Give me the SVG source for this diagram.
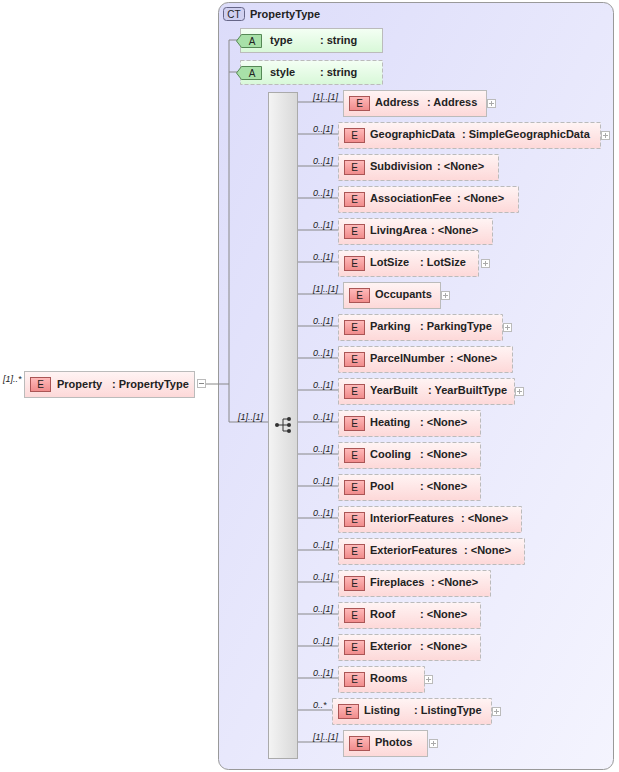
<svg xmlns="http://www.w3.org/2000/svg" width="619" height="772" viewBox="0 0 619 772">
<defs>
<linearGradient id="eg" x1="0" y1="0" x2="0" y2="1"><stop offset="0" stop-color="#fff4f4"/><stop offset="1" stop-color="#fdd8d8"/></linearGradient>
<linearGradient id="ag" x1="0" y1="0" x2="0" y2="1"><stop offset="0" stop-color="#f4fff4"/><stop offset="1" stop-color="#d8f8d8"/></linearGradient>
<linearGradient id="ctg" x1="0" y1="0" x2="1" y2="1"><stop offset="0" stop-color="#dcdcfa"/><stop offset="1" stop-color="#f4f4fe"/></linearGradient>
<linearGradient id="sg" x1="0" y1="0" x2="1" y2="0"><stop offset="0" stop-color="#f4f4f4"/><stop offset="1" stop-color="#d8d8d8"/></linearGradient>
<linearGradient id="bg" x1="0" y1="0" x2="0" y2="1"><stop offset="0" stop-color="#fbb"/><stop offset="1" stop-color="#f08a8a"/></linearGradient>
<g id="plus"><rect x="0.5" y="0.5" width="8" height="8" fill="#fff" stroke="#bbb"/><path d="M2 4.5h5M4.5 2v5" stroke="#aaa"/></g>
</defs>
<style>
text{font-family:"Liberation Sans",Arial,sans-serif;font-size:11px;font-weight:bold;fill:#222}
.m{font-weight:normal;font-style:italic;font-size:9px}
.e{fill:url(#eg);stroke:#bbb;stroke-width:1}
.o{stroke-dasharray:4,2}
.b{fill:url(#bg);stroke:#a55;stroke-width:1}
.bt{font-weight:normal;font-size:10px;text-anchor:middle}
.l{stroke:#888;stroke-width:1;fill:none}
.p{fill:#fff;stroke:#bbb}
</style>
<g id="ct">
<rect x="218.5" y="2.5" width="395" height="767" rx="10" fill="url(#ctg)" stroke="#999"/>
<rect x="223.5" y="7.5" width="21" height="13" rx="3" fill="#d0d0f0" stroke="#668"/>
<text x="234" y="18" class="bt">CT</text>
<text x="250" y="18">PropertyType</text>
</g>
<g id="connectors">
<path class="l" d="M204 384H229M229 40V422M229 40H240M229 72H240M229 422H268"/>
<path class="l" d="M297 102H343M297 134H338M297 166H338M297 198H338M297 230H338M297 262H338M297 294H343M297 326H338M297 358H338M297 390H338M297 422H338M297 454H338M297 486H338M297 518H338M297 550H338M297 582H338M297 614H338M297 646H338M297 678H338M297 710H332M297 742H343"/>
</g>
<g id="property">
<text x="3" y="382" class="m">[1]..*</text>
<rect x="24.5" y="371.5" width="170" height="26" class="e"/>
<rect x="30.5" y="377.5" width="20" height="14" class="b"/><text x="40.5" y="388" class="bt">E</text>
<text x="57" y="388">Property</text><text x="112" y="388">: PropertyType</text>
<rect x="197.5" y="379.5" width="8" height="8" class="p"/><path d="M199 383.5h5" stroke="#888"/>
</g>
<g id="attr-type">
<rect x="240.5" y="28.5" width="142" height="24" fill="url(#ag)" stroke="#bbb"/>
<path d="M241.5 34.5h20v13h-20l-5-6.5z" fill="#a8e0a8" stroke="#585"/>
<text x="252" y="45" class="bt">A</text><text x="270" y="44">type</text><text x="320" y="44">: string</text>
</g>
<g id="attr-style">
<rect x="240.5" y="60.5" width="142" height="24" fill="url(#ag)" stroke="#bbb" class="o"/>
<path d="M241.5 66.5h20v13h-20l-5-6.5z" fill="#a8e0a8" stroke="#585"/>
<text x="252" y="77" class="bt">A</text><text x="270" y="76">style</text><text x="320" y="76">: string</text>
</g>
<g id="sequence">
<rect x="268.5" y="92.5" width="29" height="666" fill="url(#sg)" stroke="#aaa"/>
<text x="238" y="420" class="m">[1]..[1]</text>
<path d="M276 425H283M283 419V431M283 419H288M283 425H288M283 431H288" stroke="#333" fill="none"/>
<circle cx="277" cy="425" r="2" fill="#333"/><circle cx="289" cy="419" r="2" fill="#333"/><circle cx="289" cy="425" r="2" fill="#333"/><circle cx="289" cy="431" r="2" fill="#333"/>
</g>
<g id="el-address"><text x="313" y="100" class="m">[1]..[1]</text><rect x="343.5" y="90.5" width="143" height="26" class="e"/><rect x="349.5" y="96.5" width="20" height="14" class="b"/><text x="359.5" y="107" class="bt">E</text><text x="375" y="106">Address</text><text x="427" y="106">: Address</text><use href="#plus" x="487" y="99"/></g>
<g id="el-geo"><text x="313" y="132" class="m">0..[1]</text><rect x="338.5" y="122.5" width="262" height="26" class="e o"/><rect x="344.5" y="128.5" width="20" height="14" class="b"/><text x="354.5" y="139" class="bt">E</text><text x="370" y="138">GeographicData</text><text x="462" y="138">: SimpleGeographicData</text><use href="#plus" x="601" y="131"/></g>
<g id="el-subdivision"><text x="313" y="164" class="m">0..[1]</text><rect x="338.5" y="154.5" width="160" height="26" class="e o"/><rect x="344.5" y="160.5" width="20" height="14" class="b"/><text x="354.5" y="171" class="bt">E</text><text x="370" y="170">Subdivision</text><text x="437" y="170">: &lt;None&gt;</text></g>
<g id="el-assoc"><text x="313" y="196" class="m">0..[1]</text><rect x="338.5" y="186.5" width="180" height="26" class="e o"/><rect x="344.5" y="192.5" width="20" height="14" class="b"/><text x="354.5" y="203" class="bt">E</text><text x="370" y="202">AssociationFee</text><text x="457" y="202">: &lt;None&gt;</text></g>
<g id="el-living"><text x="313" y="228" class="m">0..[1]</text><rect x="338.5" y="218.5" width="154" height="26" class="e o"/><rect x="344.5" y="224.5" width="20" height="14" class="b"/><text x="354.5" y="235" class="bt">E</text><text x="370" y="234">LivingArea</text><text x="431" y="234">: &lt;None&gt;</text></g>
<g id="el-lotsize"><text x="313" y="260" class="m">0..[1]</text><rect x="338.5" y="250.5" width="140" height="26" class="e o"/><rect x="344.5" y="256.5" width="20" height="14" class="b"/><text x="354.5" y="267" class="bt">E</text><text x="370" y="266">LotSize</text><text x="420" y="266">: LotSize</text><use href="#plus" x="481" y="259"/></g>
<g id="el-occupants"><text x="313" y="292" class="m">[1]..[1]</text><rect x="343.5" y="282.5" width="97" height="26" class="e"/><rect x="349.5" y="288.5" width="20" height="14" class="b"/><text x="359.5" y="299" class="bt">E</text><text x="375" y="298">Occupants</text><use href="#plus" x="441" y="291"/></g>
<g id="el-parking"><text x="313" y="324" class="m">0..[1]</text><rect x="338.5" y="314.5" width="164" height="26" class="e o"/><rect x="344.5" y="320.5" width="20" height="14" class="b"/><text x="354.5" y="331" class="bt">E</text><text x="370" y="330">Parking</text><text x="420" y="330">: ParkingType</text><use href="#plus" x="503" y="323"/></g>
<g id="el-parcel"><text x="313" y="356" class="m">0..[1]</text><rect x="338.5" y="346.5" width="174" height="26" class="e o"/><rect x="344.5" y="352.5" width="20" height="14" class="b"/><text x="354.5" y="363" class="bt">E</text><text x="370" y="362">ParcelNumber</text><text x="450" y="362">: &lt;None&gt;</text></g>
<g id="el-yearbuilt"><text x="313" y="388" class="m">0..[1]</text><rect x="338.5" y="378.5" width="176" height="26" class="e o"/><rect x="344.5" y="384.5" width="20" height="14" class="b"/><text x="354.5" y="395" class="bt">E</text><text x="370" y="394">YearBuilt</text><text x="428" y="394">: YearBuiltType</text><use href="#plus" x="515" y="387"/></g>
<g id="el-heating"><text x="313" y="420" class="m">0..[1]</text><rect x="338.5" y="410.5" width="142" height="26" class="e o"/><rect x="344.5" y="416.5" width="20" height="14" class="b"/><text x="354.5" y="427" class="bt">E</text><text x="370" y="426">Heating</text><text x="420" y="426">: &lt;None&gt;</text></g>
<g id="el-cooling"><text x="313" y="452" class="m">0..[1]</text><rect x="338.5" y="442.5" width="142" height="26" class="e o"/><rect x="344.5" y="448.5" width="20" height="14" class="b"/><text x="354.5" y="459" class="bt">E</text><text x="370" y="458">Cooling</text><text x="420" y="458">: &lt;None&gt;</text></g>
<g id="el-pool"><text x="313" y="484" class="m">0..[1]</text><rect x="338.5" y="474.5" width="142" height="26" class="e o"/><rect x="344.5" y="480.5" width="20" height="14" class="b"/><text x="354.5" y="491" class="bt">E</text><text x="370" y="490">Pool</text><text x="420" y="490">: &lt;None&gt;</text></g>
<g id="el-interior"><text x="313" y="516" class="m">0..[1]</text><rect x="338.5" y="506.5" width="183" height="26" class="e o"/><rect x="344.5" y="512.5" width="20" height="14" class="b"/><text x="354.5" y="523" class="bt">E</text><text x="370" y="522">InteriorFeatures</text><text x="461" y="522">: &lt;None&gt;</text></g>
<g id="el-exteriorfeatures"><text x="313" y="548" class="m">0..[1]</text><rect x="338.5" y="538.5" width="186" height="26" class="e o"/><rect x="344.5" y="544.5" width="20" height="14" class="b"/><text x="354.5" y="555" class="bt">E</text><text x="370" y="554">ExteriorFeatures</text><text x="464" y="554">: &lt;None&gt;</text></g>
<g id="el-fireplaces"><text x="313" y="580" class="m">0..[1]</text><rect x="338.5" y="570.5" width="152" height="26" class="e o"/><rect x="344.5" y="576.5" width="20" height="14" class="b"/><text x="354.5" y="587" class="bt">E</text><text x="370" y="586">Fireplaces</text><text x="431" y="586">: &lt;None&gt;</text></g>
<g id="el-roof"><text x="313" y="612" class="m">0..[1]</text><rect x="338.5" y="602.5" width="142" height="26" class="e o"/><rect x="344.5" y="608.5" width="20" height="14" class="b"/><text x="354.5" y="619" class="bt">E</text><text x="370" y="618">Roof</text><text x="420" y="618">: &lt;None&gt;</text></g>
<g id="el-exterior"><text x="313" y="644" class="m">0..[1]</text><rect x="338.5" y="634.5" width="142" height="26" class="e o"/><rect x="344.5" y="640.5" width="20" height="14" class="b"/><text x="354.5" y="651" class="bt">E</text><text x="370" y="650">Exterior</text><text x="420" y="650">: &lt;None&gt;</text></g>
<g id="el-rooms"><text x="313" y="676" class="m">0..[1]</text><rect x="338.5" y="666.5" width="86" height="26" class="e o"/><rect x="344.5" y="672.5" width="20" height="14" class="b"/><text x="354.5" y="683" class="bt">E</text><text x="370" y="682">Rooms</text><use href="#plus" x="424" y="675"/></g>
<g id="el-listing"><text x="313" y="708" class="m">0..*</text><rect x="332.5" y="698.5" width="159" height="26" class="e o"/><rect x="338.5" y="704.5" width="20" height="14" class="b"/><text x="348.5" y="715" class="bt">E</text><text x="364" y="714">Listing</text><text x="414" y="714">: ListingType</text><use href="#plus" x="492" y="707"/></g>
<g id="el-photos"><text x="313" y="740" class="m">[1]..[1]</text><rect x="343.5" y="730.5" width="84" height="26" class="e"/><rect x="349.5" y="736.5" width="20" height="14" class="b"/><text x="359.5" y="747" class="bt">E</text><text x="375" y="746">Photos</text><use href="#plus" x="429" y="739"/></g>
</svg>
